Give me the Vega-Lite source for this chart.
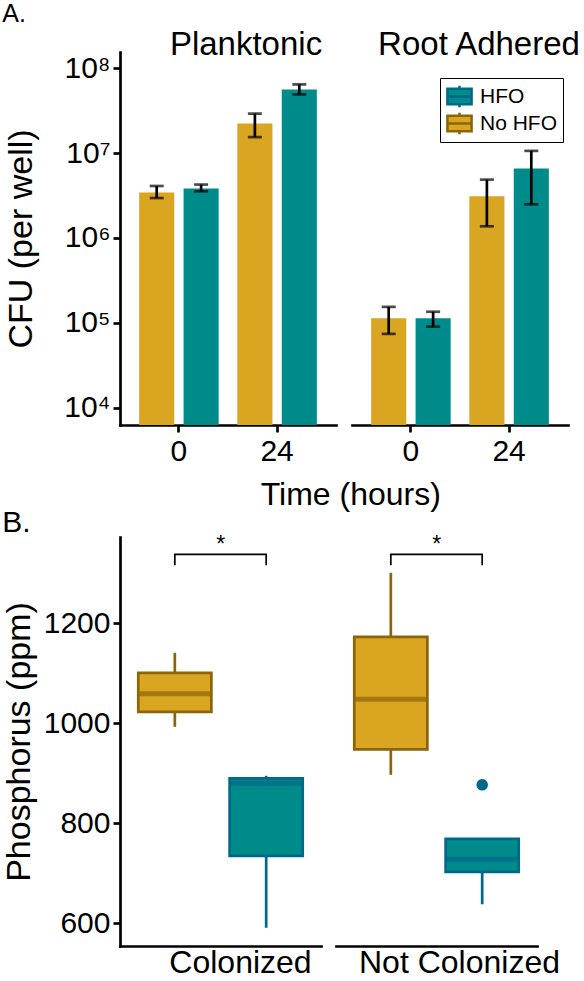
{
  "$schema": "https://vega.github.io/schema/vega-lite/v6.json",
  "padding": {"left": 2, "top": 2, "right": 0, "bottom": 0},
  "background": "white",
  "title": {"text": "A.", "anchor": "start", "fontSize": 25, "fontWeight": "normal", "color": "black", "offset": 2},
  "datasets": {
    "cfu": [
      {"fraction": "Planktonic", "time": "0", "treatment": "No HFO", "cfu": 3420000, "lo": 2950000, "hi": 4090000},
      {"fraction": "Planktonic", "time": "0", "treatment": "HFO", "cfu": 3810000, "lo": 3540000, "hi": 4250000},
      {"fraction": "Planktonic", "time": "24", "treatment": "No HFO", "cfu": 22200000, "lo": 15400000, "hi": 29100000},
      {"fraction": "Planktonic", "time": "24", "treatment": "HFO", "cfu": 56100000, "lo": 49100000, "hi": 64300000},
      {"fraction": "Root Adhered", "time": "0", "treatment": "No HFO", "cfu": 113000, "lo": 74000, "hi": 154000},
      {"fraction": "Root Adhered", "time": "0", "treatment": "HFO", "cfu": 113000, "lo": 90000, "hi": 135000},
      {"fraction": "Root Adhered", "time": "24", "treatment": "No HFO", "cfu": 3100000, "lo": 1370000, "hi": 4860000},
      {"fraction": "Root Adhered", "time": "24", "treatment": "HFO", "cfu": 6550000, "lo": 2490000, "hi": 10600000}
    ],
    "phos": [
      {"site": "Colonized", "treatment": "No HFO", "lower": 993, "q1": 1023, "median": 1059, "q3": 1101, "upper": 1141},
      {"site": "Colonized", "treatment": "HFO", "lower": 591, "q1": 735, "median": 880, "q3": 890, "upper": 895},
      {"site": "Not Colonized", "treatment": "No HFO", "lower": 897, "q1": 948, "median": 1048, "q3": 1173, "upper": 1301},
      {"site": "Not Colonized", "treatment": "HFO", "lower": 638, "q1": 703, "median": 728, "q3": 769, "upper": 769}
    ],
    "outliers": [
      {"site": "Not Colonized", "treatment": "HFO", "phosphorus": 877}
    ],
    "brackets": [
      {"site": "Colonized", "treatment": "No HFO", "level": 1316, "step": 1},
      {"site": "Colonized", "treatment": "No HFO", "level": 1338, "step": 2},
      {"site": "Colonized", "treatment": "HFO", "level": 1338, "step": 3},
      {"site": "Colonized", "treatment": "HFO", "level": 1316, "step": 4},
      {"site": "Not Colonized", "treatment": "No HFO", "level": 1316, "step": 1},
      {"site": "Not Colonized", "treatment": "No HFO", "level": 1338, "step": 2},
      {"site": "Not Colonized", "treatment": "HFO", "level": 1338, "step": 3},
      {"site": "Not Colonized", "treatment": "HFO", "level": 1316, "step": 4}
    ],
    "stars": [
      {"site": "Colonized", "treatment": "No HFO", "level": 1338, "label": "*"},
      {"site": "Not Colonized", "treatment": "No HFO", "level": 1338, "label": "*"}
    ]
  },
  "config": {
    "font": "Liberation Sans",
    "view": {"stroke": null},
    "axis": {
      "grid": false,
      "domainColor": "black",
      "domainWidth": 2.7,
      "domainCap": "square",
      "tickColor": "black",
      "tickWidth": 2.7,
      "tickSize": 7,
      "labelColor": "black",
      "labelFontSize": 30,
      "labelFont": "Liberation Sans",
      "titleColor": "black",
      "titleFontSize": 34,
      "titleFontWeight": "normal",
      "titleFont": "Liberation Sans"
    },
    "legend": {
      "labelFontSize": 21,
      "labelColor": "black",
      "labelFont": "Liberation Sans",
      "symbolType": "M-0.93,-0.6H0.93V0.6H-0.93Z M-0.93,0H0.93 M0,-0.6V-0.82 M0,0.6V0.82",
      "symbolSize": 676,
      "symbolStrokeWidth": 2.5,
      "strokeColor": "black",
      "padding": 5,
      "labelOffset": 6,
      "rowPadding": 0,
      "clipHeight": 27
    }
  },
  "resolve": {"scale": {"color": "independent", "fill": "independent", "stroke": "independent"}},
  "columns": 1,
  "align": "none",
  "spacing": -3,
  "concat": [
    {
      "title": {"text": "Time (hours)", "orient": "bottom", "fontSize": 32, "fontWeight": "normal", "color": "black", "anchor": "start", "frame": "bounds", "dx": 256, "offset": 14},
      "spacing": 16,
      "hconcat": [
        {
          "width": 216,
          "height": 373,
          "title": {"text": "Planktonic", "orient": "top", "fontSize": 33, "fontWeight": "normal", "color": "black", "anchor": "middle", "dx": 18, "baseline": "alphabetic", "offset": -36},
          "data": {"name": "cfu"},
          "transform": [{"filter": "datum.fraction === 'Planktonic'"}],
          "encoding": {
            "x": {"field": "time", "type": "ordinal", "sort": ["0", "24"], "scale": {"paddingInner": 0, "paddingOuter": 0.1}, "axis": {"title": null, "labelAngle": 0, "labelPadding": 4, "ticks": true, "tickBand": "center"}},
            "xOffset": {"field": "treatment", "type": "nominal", "sort": ["No HFO", "HFO"], "scale": {"paddingInner": 0.21, "paddingOuter": 0.21}}
          },
          "layer": [
            {
              "mark": {"type": "bar", "strokeWidth": 0, "clip": true},
              "encoding": {
                "y": {"field": "cfu", "type": "quantitative", "title": "CFU (per well)", "scale": {"type": "log", "domain": [6252, 154900000], "nice": false},
                      "axis": {"values": [10000, 100000, 1000000, 10000000, 100000000], "labelExpr": "'10' + ['⁰','¹','²','³','⁴','⁵','⁶','⁷','⁸','⁹'][round(log(datum.value) / LN10)]", "labelPadding": 3, "titlePadding": 25}},
                "y2": {"datum": 1},
                "color": {"field": "treatment", "type": "nominal", "scale": {"domain": ["HFO", "No HFO"], "range": ["#008B8B", "#DAA520"]},
                          "legend": {"title": null, "orient": "none", "legendX": 320, "legendY": 26, "rowPadding": 0, "clipHeight": 27}},
                "stroke": {"field": "treatment", "type": "nominal", "scale": {"domain": ["HFO", "No HFO"], "range": ["#00688B", "#8B6508"]},
                           "legend": {"title": null, "orient": "none", "legendX": 320, "legendY": 26, "rowPadding": 0, "clipHeight": 27}}
              }
            },
            {
              "mark": {"type": "rule", "strokeWidth": 2.7, "color": "black"},
              "encoding": {"y": {"field": "lo", "type": "quantitative", "title": "CFU (per well)"}, "y2": {"field": "hi"}}
            },
            {
              "mark": {"type": "tick", "thickness": 2.7, "size": 14, "color": "black"},
              "encoding": {"y": {"field": "lo", "type": "quantitative", "title": "CFU (per well)"}}
            },
            {
              "mark": {"type": "tick", "thickness": 2.7, "size": 14, "color": "black"},
              "encoding": {"y": {"field": "hi", "type": "quantitative", "title": "CFU (per well)"}}
            }
          ]
        },
        {
          "width": 216,
          "height": 373,
          "title": {"text": "Root Adhered", "orient": "top", "fontSize": 33, "fontWeight": "normal", "color": "black", "anchor": "middle", "dx": 19, "baseline": "alphabetic", "offset": -36},
          "data": {"name": "cfu"},
          "transform": [{"filter": "datum.fraction === 'Root Adhered'"}],
          "encoding": {
            "x": {"field": "time", "type": "ordinal", "sort": ["0", "24"], "scale": {"paddingInner": 0, "paddingOuter": 0.1}, "axis": {"title": null, "labelAngle": 0, "labelPadding": 4, "ticks": true, "tickBand": "center"}},
            "xOffset": {"field": "treatment", "type": "nominal", "sort": ["No HFO", "HFO"], "scale": {"paddingInner": 0.21, "paddingOuter": 0.21}}
          },
          "layer": [
            {
              "mark": {"type": "bar", "strokeWidth": 0, "clip": true},
              "encoding": {
                "y": {"field": "cfu", "type": "quantitative", "scale": {"type": "log", "domain": [6252, 154900000], "nice": false}, "axis": null},
                "y2": {"datum": 1},
                "color": {"field": "treatment", "type": "nominal", "scale": {"domain": ["HFO", "No HFO"], "range": ["#008B8B", "#DAA520"]}},
                "stroke": {"field": "treatment", "type": "nominal", "scale": {"domain": ["HFO", "No HFO"], "range": ["#00688B", "#8B6508"]}}
              }
            },
            {
              "mark": {"type": "rule", "strokeWidth": 2.7, "color": "black"},
              "encoding": {"y": {"field": "lo", "type": "quantitative", "axis": null}, "y2": {"field": "hi"}}
            },
            {
              "mark": {"type": "tick", "thickness": 2.7, "size": 14, "color": "black"},
              "encoding": {"y": {"field": "lo", "type": "quantitative", "axis": null}}
            },
            {
              "mark": {"type": "tick", "thickness": 2.7, "size": 14, "color": "black"},
              "encoding": {"y": {"field": "hi", "type": "quantitative", "axis": null}}
            }
          ]
        }
      ]
    },
    {
      "title": {"text": "B.", "anchor": "start", "fontSize": 30, "fontWeight": "normal", "color": "black", "offset": -4},
      "spacing": 15,
      "hconcat": [
        {
          "width": 201,
          "height": 409,
          "title": {"text": "Colonized", "orient": "bottom", "fontSize": 32, "fontWeight": "normal", "color": "black", "anchor": "middle", "dx": 20, "offset": 2},
          "encoding": {
            "x": {"field": "treatment", "type": "nominal", "sort": ["No HFO", "HFO"], "scale": {"paddingInner": 0.2, "paddingOuter": 0.2}, "axis": {"title": null, "labels": false, "ticks": false}}
          },
          "layer": [
            {
              "data": {"name": "phos"},
              "transform": [{"filter": "datum.site === 'Colonized'"}],
              "mark": {"type": "rule", "strokeWidth": 2.7},
              "encoding": {
                "y": {"field": "lower", "type": "quantitative", "title": "Phosphorus (ppm)", "scale": {"domain": [554.6, 1372.6], "nice": false, "zero": false},
                      "axis": {"values": [600, 800, 1000, 1200], "format": "d", "labelPadding": 3, "titlePadding": 7}},
                "y2": {"field": "upper"},
                "stroke": {"field": "treatment", "type": "nominal", "scale": {"domain": ["HFO", "No HFO"], "range": ["#00688B", "#8B6508"]}, "legend": null}
              }
            },
            {
              "data": {"name": "phos"},
              "transform": [{"filter": "datum.site === 'Colonized'"}],
              "mark": {"type": "bar", "strokeWidth": 2.7},
              "encoding": {
                "y": {"field": "q1", "type": "quantitative", "title": "Phosphorus (ppm)"},
                "y2": {"field": "q3"},
                "fill": {"field": "treatment", "type": "nominal", "scale": {"domain": ["HFO", "No HFO"], "range": ["#008B8B", "#DAA520"]}, "legend": null},
                "stroke": {"field": "treatment", "type": "nominal", "legend": null}
              }
            },
            {
              "data": {"name": "phos"},
              "transform": [{"filter": "datum.site === 'Colonized'"}],
              "mark": {"type": "tick", "thickness": 5, "size": 71},
              "encoding": {
                "y": {"field": "median", "type": "quantitative", "title": "Phosphorus (ppm)"},
                "color": {"field": "treatment", "type": "nominal", "scale": {"domain": ["HFO", "No HFO"], "range": ["#00688B", "#8B6508"]}, "legend": null}
              }
            },
            {
              "data": {"name": "brackets"},
              "transform": [{"filter": "datum.site === 'Colonized'"}],
              "mark": {"type": "line", "color": "black", "strokeWidth": 1.7},
              "encoding": {
                "y": {"field": "level", "type": "quantitative", "title": "Phosphorus (ppm)"},
                "order": {"field": "step", "type": "quantitative"}
              }
            },
            {
              "data": {"name": "stars"},
              "transform": [{"filter": "datum.site === 'Colonized'"}],
              "mark": {"type": "text", "fontSize": 23, "color": "black", "dx": 46, "dy": 3, "baseline": "bottom"},
              "encoding": {
                "y": {"field": "level", "type": "quantitative", "title": "Phosphorus (ppm)"},
                "text": {"field": "label"}
              }
            }
          ]
        },
        {
          "width": 201,
          "height": 409,
          "title": {"text": "Not Colonized", "orient": "bottom", "fontSize": 32, "fontWeight": "normal", "color": "black", "anchor": "middle", "dx": 23, "offset": 2},
          "encoding": {
            "x": {"field": "treatment", "type": "nominal", "sort": ["No HFO", "HFO"], "scale": {"paddingInner": 0.2, "paddingOuter": 0.2}, "axis": {"title": null, "labels": false, "ticks": false}}
          },
          "layer": [
            {
              "data": {"name": "phos"},
              "transform": [{"filter": "datum.site === 'Not Colonized'"}],
              "mark": {"type": "rule", "strokeWidth": 2.7},
              "encoding": {
                "y": {"field": "lower", "type": "quantitative", "scale": {"domain": [554.6, 1372.6], "nice": false, "zero": false}, "axis": null},
                "y2": {"field": "upper"},
                "stroke": {"field": "treatment", "type": "nominal", "scale": {"domain": ["HFO", "No HFO"], "range": ["#00688B", "#8B6508"]}, "legend": null}
              }
            },
            {
              "data": {"name": "phos"},
              "transform": [{"filter": "datum.site === 'Not Colonized'"}],
              "mark": {"type": "bar", "strokeWidth": 2.7},
              "encoding": {
                "y": {"field": "q1", "type": "quantitative", "axis": null},
                "y2": {"field": "q3"},
                "fill": {"field": "treatment", "type": "nominal", "scale": {"domain": ["HFO", "No HFO"], "range": ["#008B8B", "#DAA520"]}, "legend": null},
                "stroke": {"field": "treatment", "type": "nominal", "legend": null}
              }
            },
            {
              "data": {"name": "phos"},
              "transform": [{"filter": "datum.site === 'Not Colonized'"}],
              "mark": {"type": "tick", "thickness": 5, "size": 71},
              "encoding": {
                "y": {"field": "median", "type": "quantitative", "axis": null},
                "color": {"field": "treatment", "type": "nominal", "scale": {"domain": ["HFO", "No HFO"], "range": ["#00688B", "#8B6508"]}, "legend": null}
              }
            },
            {
              "data": {"name": "outliers"},
              "mark": {"type": "point", "filled": true, "opacity": 1, "size": 135, "color": "#00688B"},
              "encoding": {
                "y": {"field": "phosphorus", "type": "quantitative", "axis": null}
              }
            },
            {
              "data": {"name": "brackets"},
              "transform": [{"filter": "datum.site === 'Not Colonized'"}],
              "mark": {"type": "line", "color": "black", "strokeWidth": 1.7},
              "encoding": {
                "y": {"field": "level", "type": "quantitative", "axis": null},
                "order": {"field": "step", "type": "quantitative"}
              }
            },
            {
              "data": {"name": "stars"},
              "transform": [{"filter": "datum.site === 'Not Colonized'"}],
              "mark": {"type": "text", "fontSize": 23, "color": "black", "dx": 46, "dy": 3, "baseline": "bottom"},
              "encoding": {
                "y": {"field": "level", "type": "quantitative", "axis": null},
                "text": {"field": "label"}
              }
            }
          ]
        }
      ]
    }
  ]
}
